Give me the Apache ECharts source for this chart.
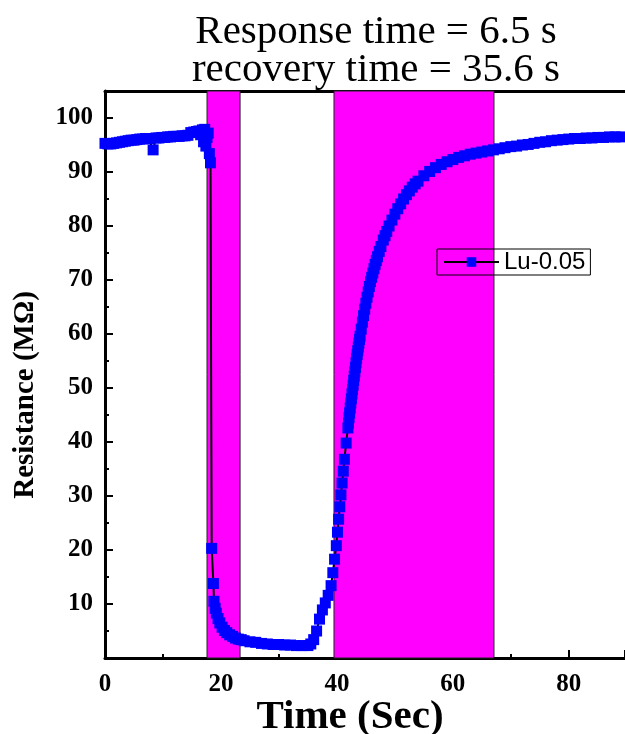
<!DOCTYPE html>
<html>
<head>
<meta charset="utf-8">
<script src="https://cdn.jsdelivr.net/npm/echarts@6/dist/echarts.min.js"></script>
<style>
  html, body { margin: 0; padding: 0; background: #fff; }
  #chart-container { width: 625px; height: 734px; }
</style>
</head>
<body>
<div id="chart-container"></div>
<script>
// time (s) and resistance (MOhm)
var timeSec = [
  0, 0.5, 1, 1.5, 2, 2.5, 3, 3.5, 4, 4.5, 5, 5.5, 6, 6.5, 7, 7.5, 8.3, 8.8, 9.3, 9.8,
  10.3, 10.8, 11.3, 11.8, 12.3, 12.8, 13.3, 13.8, 14.3, 14.8, 15.3, 15.8, 16.2, 16.5, 16.8, 17.0,
  17.2, 17.4, 17.6, 17.8, 18.0, 18.2, 18.4, 18.7, 18.8, 19.0, 19.2, 19.5, 19.8, 20.2, 20.6, 21.0,
  21.5, 22.0, 22.5, 23, 23.5, 24, 25, 26, 27, 28, 29, 30, 31, 32, 33, 34, 35, 35.5,
  36, 36.5, 37, 37.5, 38, 38.5, 39, 39.3, 39.6, 39.9, 40.1, 40.3, 40.5, 40.7, 40.9, 41.1,
  41.3, 41.6, 41.9, 42.0, 42.1, 42.2, 42.3, 42.4, 42.5, 42.6, 42.7, 42.8, 42.9, 43.0, 43.1, 43.2,
  43.3, 43.4, 43.5, 43.6, 43.7, 43.8, 43.9, 44.0, 44.2, 44.4, 44.6, 44.8, 45.0, 45.2, 45.4, 45.6,
  45.8, 46.0, 46.2, 46.4, 46.6, 46.8, 47.0, 47.3, 47.6, 48.0, 48.3, 48.6, 49.0, 49.5, 50, 50.5,
  51, 51.5, 52, 52.5, 53, 53.5, 54, 55, 56, 57, 58, 59, 60, 61, 62, 63, 64, 65,
  66, 67, 68, 69, 70, 71, 72, 73, 74, 75, 76, 77, 78, 79, 80, 81, 82, 83, 84, 85,
  86, 87, 88, 89, 90
];
var resistance = [
  95.3, 95.2, 95.2, 95.3, 95.4, 95.5, 95.6, 95.7, 95.8, 95.9, 95.9, 96.0, 96.1, 96.1, 96.2, 96.2, 94.1, 96.3, 96.3, 96.4,
  96.4, 96.5, 96.5, 96.6, 96.6, 96.6, 96.7, 96.7, 96.8, 97.3, 97.4, 97.5, 97.6, 96.9, 97.8, 95.6,
  97.9, 94.8, 96.4, 97.2, 93.4, 91.7, 20.3, 13.8, 10.5, 9.2, 8.3, 7.3, 6.5, 5.7, 5.1, 4.7,
  4.3, 4.0, 3.7, 3.5, 3.4, 3.2, 3.0, 2.9, 2.7, 2.6, 2.5, 2.5, 2.4, 2.4, 2.3, 2.3, 2.3, 2.6,
  3.4, 5.0, 7.2, 8.9, 10.2, 11.6, 13.4, 15.8, 18.3, 20.8, 23.3, 25.7, 28.0, 30.2, 32.4, 34.6,
  36.8, 39.8, 42.6, 43.5, 44.5, 45.4, 46.3, 47.2, 48.0, 48.9, 49.7, 50.5, 51.4, 52.2, 53.0, 53.8,
  54.7, 55.5, 56.2, 56.9, 57.6, 58.3, 59.0, 59.6, 60.9, 62.2, 63.4, 64.6, 65.7, 66.8, 67.8, 68.8,
  69.7, 70.5, 71.3, 72.1, 72.9, 73.6, 74.3, 75.3, 76.2, 77.4, 78.2, 79.0, 80.0, 81.1, 82.2, 83.2,
  84.1, 85.0, 85.8, 86.5, 87.2, 87.8, 88.3, 89.3, 90.1, 90.8, 91.4, 91.9, 92.3, 92.7, 93.0, 93.3, 93.5, 93.7,
  93.9, 94.1, 94.3, 94.5, 94.7, 94.8, 95.0, 95.1, 95.3, 95.5, 95.6, 95.8, 95.9, 96.0, 96.1, 96.2, 96.2, 96.3, 96.3, 96.4,
  96.4, 96.5, 96.5, 96.5, 96.6
];
// gas on / gas off windows (s)
var responseBand = [17.6, 23.3];
var recoveryBand = [39.5, 67.1];
var seriesName = 'Lu-0.05';

var points = timeSec.map(function (t, i) { return [t, resistance[i]]; });

var dom = document.getElementById('chart-container');
var myChart = echarts.init(dom, null, { renderer: 'canvas' });

var serif = 'Liberation Serif';

var option = {
  animation: false,
  title: {
    text: 'Response time = 6.5 s\nrecovery time = 35.6 s',
    left: 371,
    top: 8,
    textAlign: 'center',
    textStyle: {
      fontFamily: serif,
      fontWeight: 'normal',
      fontSize: 41,
      lineHeight: 38,
      color: '#000'
    }
  },
  legend: {
    data: [seriesName],
    left: 437,
    top: 249,
    padding: [1, 5, 1, 6],
    itemWidth: 55,
    itemHeight: 12,
    itemGap: 6,
    borderColor: '#000',
    borderWidth: 1,
    textStyle: { fontFamily: 'Liberation Sans', fontSize: 24, color: '#000' }
  },
  // axis titles are off-centre in the original, so place them by hand
  graphic: [
    {
      type: 'text',
      x: 26,
      y: 395,
      rotation: Math.PI / 2,
      style: {
        text: 'Resistance (M\u03A9)',
        fontFamily: serif,
        fontWeight: 'bold',
        fontSize: 29,
        fill: '#000',
        align: 'center',
        verticalAlign: 'middle'
      }
    },
    {
      type: 'text',
      x: 350,
      y: 717,
      style: {
        text: 'Time (Sec)',
        fontFamily: serif,
        fontWeight: 'bold',
        fontSize: 41,
        fill: '#000',
        align: 'center',
        verticalAlign: 'middle'
      }
    }
  ],
  grid: { left: 105, right: 0, top: 91, bottom: 76, outerBoundsMode: 'none' },
  xAxis: [
    {
      type: 'value',
      min: 0,
      max: 89.7,
      interval: 20,
      axisLine: { lineStyle: { color: '#000', width: 3 } },
      axisTick: { inside: true, length: 8, lineStyle: { width: 2, color: '#000' } },
      minorTick: { show: true, splitNumber: 2, length: 4, lineStyle: { width: 2, color: '#000' } },
      splitLine: { show: false },
      axisLabel: { showMaxLabel: false, fontFamily: serif, fontWeight: 'bold', fontSize: 25, color: '#000', margin: 14 }
    },
    {
      type: 'value',
      position: 'top',
      min: 0,
      max: 89.7,
      axisLine: { show: true, lineStyle: { color: '#000', width: 3 } },
      axisTick: { show: false },
      axisLabel: { show: false },
      splitLine: { show: false }
    }
  ],
  yAxis: {
    type: 'value',
    min: 0,
    max: 105,
    interval: 10,
    axisLine: { show: true, lineStyle: { color: '#000', width: 3 } },
    axisTick: { inside: true, length: 8, lineStyle: { width: 2, color: '#000' } },
    minorTick: { show: true, splitNumber: 2, length: 4, lineStyle: { width: 2, color: '#000' } },
    splitLine: { show: false },
    axisLabel: { showMinLabel: false, showMaxLabel: false, fontFamily: serif, fontWeight: 'bold', fontSize: 25, color: '#000', margin: 12 }
  },
  series: [
    {
      name: seriesName,
      type: 'line',
      data: points,
      symbol: 'rect',
      symbolSize: 11,
      showAllSymbol: true,
      itemStyle: { color: '#0000ff' },
      lineStyle: { color: '#000', width: 2 },
      markArea: {
        silent: true,
        itemStyle: { color: '#ff00ff', opacity: 1, borderColor: '#222', borderWidth: 1 },
        data: [
          [{ xAxis: responseBand[0] }, { xAxis: responseBand[1] }],
          [{ xAxis: recoveryBand[0] }, { xAxis: recoveryBand[1] }]
        ]
      }
    }
  ]
};

myChart.setOption(option);
</script>
</body>
</html>
